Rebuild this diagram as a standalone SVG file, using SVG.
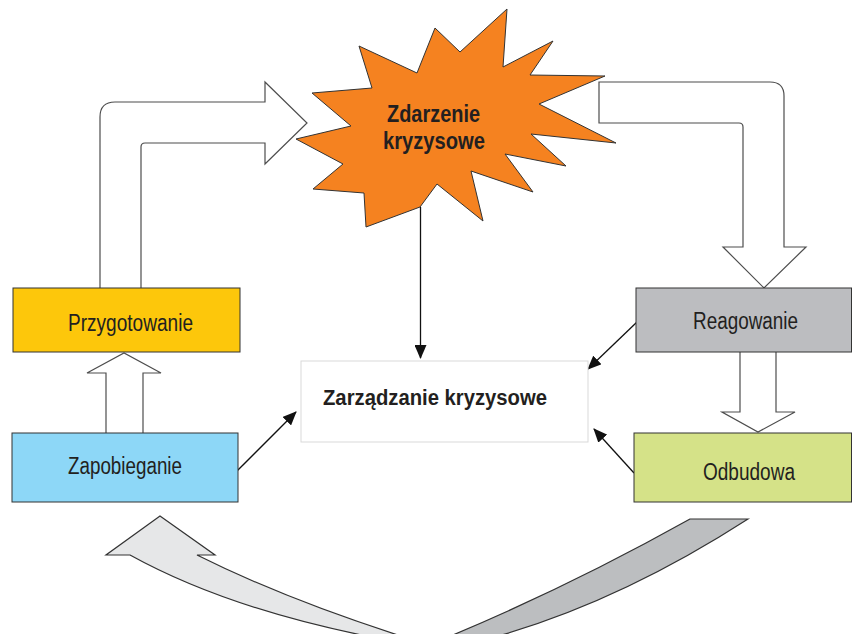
<svg xmlns="http://www.w3.org/2000/svg" width="852" height="634" viewBox="0 0 852 634">
<style>
.lbl{font-family:"Liberation Sans",Arial,sans-serif;font-size:23px;fill:#231f20}
.bold{font-family:"Liberation Sans",Arial,sans-serif;font-weight:bold;fill:#231f20}
.box{stroke:#333;stroke-width:1}
.hollow{fill:#fff;stroke:#4d4d4d;stroke-width:1.2;stroke-linejoin:miter}
.conn{stroke:#111;stroke-width:1.3;fill:none;marker-end:url(#ah)}
.curve{stroke:#333;stroke-width:1.2}
</style>
<defs>
<marker id="ah" markerWidth="14" markerHeight="12" refX="13" refY="6" orient="auto" markerUnits="userSpaceOnUse">
<path d="M0,0 L14,6 L0,12 Z" fill="#111"/>
</marker>
</defs>
<rect width="852" height="634" fill="#fff"/>
<g id="connectors">
<path class="hollow" d="M100,290 L100,117 Q100,102 115,102 L265,102 L265,82 L307,123 L265,164 L265,143 L145,143 Q141,143 141,147 L141,290 Z"/>
<path class="hollow" d="M599,82 L770,82 Q784,82 784,96 L784,247 L806,247 L764,288 L723,247 L743,247 L743,127 Q743,123 739,123 L599,123 Z"/>
<path class="hollow" d="M106,434 L106,373 L87,373 L124,353 L161,373 L143,373 L143,434 Z"/>
<path class="hollow" d="M740,351 L740,412 L722,412 L758,432 L795,412 L776,412 L776,351 Z"/>
<line class="conn" x1="420.5" y1="207" x2="420.5" y2="358"/>
<line class="conn" x1="237" y1="471" x2="296" y2="412"/>
<line class="conn" x1="637" y1="322" x2="588" y2="369"/>
<line class="conn" x1="634" y1="473" x2="594" y2="429"/>
<path class="curve" fill="#e6e7e8" d="M160,516 L215,555 L197,555 Q291,602 420,642 L398,642 Q235,613 130,555 L106,555 Z"/>
<path class="curve" fill="#bcbec0" d="M690,519 L748,519 Q610,608 476,642 L436,642 Q563,590 690,519 Z"/>
</g>
<g id="star">
<polygon fill="#f58220" stroke="#333" stroke-width="1" points="435,28 460,52 507,9 503,67 553,41 530,75 605,76 539,104 616,143 531,134 566,166 505,154 533,192 471,171 483,221 437,184 420,207 366,227 364,193 313,189 343,164 296,139 351,126 312,93 372,88 359,46 417,73"/>
<text class="bold" font-size="24" x="387" y="122" textLength="93" lengthAdjust="spacingAndGlyphs">Zdarzenie</text>
<text class="bold" font-size="24" x="383" y="149" textLength="102" lengthAdjust="spacingAndGlyphs">kryzysowe</text>
</g>
<g id="zarzadzanie">
<rect x="301" y="361" width="287" height="81" fill="#fff" stroke="#d9d9d9" stroke-width="1"/>
<text class="bold" font-size="22" x="323" y="405" textLength="224" lengthAdjust="spacingAndGlyphs">Zarządzanie kryzysowe</text>
</g>
<g id="przygotowanie">
<rect class="box" x="13" y="288" width="227" height="64" fill="#fdc70b"/>
<text class="lbl" x="68" y="331" textLength="125" lengthAdjust="spacingAndGlyphs">Przygotowanie</text>
</g>
<g id="zapobieganie">
<rect class="box" x="12" y="433" width="226" height="69" fill="#8dd7f7"/>
<text class="lbl" x="68" y="474" textLength="114" lengthAdjust="spacingAndGlyphs">Zapobieganie</text>
</g>
<g id="reagowanie">
<rect class="box" x="636" y="288" width="215.5" height="64" fill="#bcbdc0"/>
<text class="lbl" x="693" y="329" textLength="105" lengthAdjust="spacingAndGlyphs">Reagowanie</text>
</g>
<g id="odbudowa">
<rect class="box" x="634" y="433" width="217.5" height="69" fill="#d5e288"/>
<text class="lbl" x="703" y="480" textLength="92" lengthAdjust="spacingAndGlyphs">Odbudowa</text>
</g>
</svg>
